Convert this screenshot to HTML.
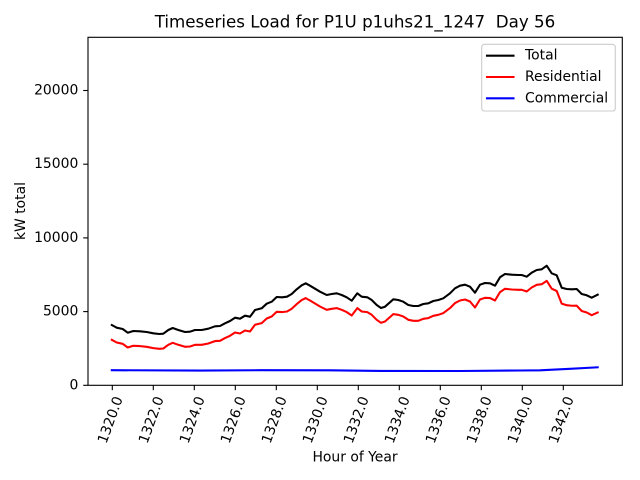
<!DOCTYPE html>
<html><head><meta charset="utf-8"><style>
html,body{margin:0;padding:0;background:#fff;}
svg{display:block;font-family:"DejaVu Sans","Liberation Sans",sans-serif;}
</style></head><body>
<svg width="640" height="480" viewBox="0 0 640 480" xmlns="http://www.w3.org/2000/svg">
<rect width="640" height="480" fill="#fff"/>
<text x="355" y="27.7" font-size="16.7" text-anchor="middle" xml:space="preserve">Timeseries Load for P1U p1uhs21_1247  Day 56</text>

<g fill="none" stroke-width="2.08" stroke-linejoin="round" stroke-linecap="square">
<polyline stroke="#0000ff" points="111.8,370.2 200,370.6 260,370.2 330,370.3 380,370.9 460,371 520,370.5 540,370.3 570,368.8 597.7,367.3"/>
<polyline stroke="#ff0000" points="111.8,339.8 116.7,342.5 122.7,343.8 127.7,347.5 133.3,345.8 140,346.1 146.7,346.8 153.3,348.1 159.3,348.8 163.3,348.5 168.3,344.8 172.7,342.8 178.3,344.8 185,346.8 190,346.5 195,344.8 201.7,344.8 208.3,343.5 215,341.1 220,340.8 225,338.1 230,335.8 235,332.5 240,333.5 245,330.5 250,331.5 255,324.8 261.7,323.1 266.7,318.5 271.7,316.5 276.7,311.8 282,312.1 287,311.5 291.7,308.8 296.7,304.1 301.7,300.1 305.7,298.1 310,300.5 315,303.5 320,306.5 326.7,309.8 331.7,308.8 336.7,308.1 341.7,309.8 346.7,312.1 351.7,315.5 357.3,308.1 361.7,311.5 367.3,312.1 371.7,314.8 376.7,319.8 381,322.8 385,321.5 393.3,314.1 398.3,314.8 403.3,316.5 408.3,319.8 413.3,320.8 418.3,320.8 423.3,318.8 428.3,318.1 433.3,315.8 438.3,314.8 443.3,313.1 450,308.1 455,303.1 460,300.5 465,299.5 470,301.5 475,307.5 480,299.5 485,297.8 490,298.1 495,300.5 500,292.1 505,288.8 511.7,289.5 518.3,289.8 521.7,289.8 526.7,291.5 531.7,287.5 536.7,284.8 541.7,284.2 546.7,280.85 551.7,288.7 556.7,291 561.7,303.6 566.7,305.2 571.7,305.75 576.7,305.7 581.7,311 586.7,312.5 591.7,315.2 597.7,312.5"/>
<polyline stroke="#000000" points="111.8,325 116.7,327.7 122.7,329 127.7,332.7 133.3,331 140,331.3 146.7,332 153.3,333.3 159.3,334 163.3,333.7 168.3,330 172.7,328 178.3,330 185,332 190,331.7 195,330 201.7,330 208.3,328.7 215,326.3 220,326 225,323.3 230,321 235,317.7 240,318.7 245,315.7 250,316.7 255,310 261.7,308.3 266.7,303.7 271.7,301.7 276.7,297 282,297.3 287,296.7 291.7,294 296.7,289.3 301.7,285.3 305.7,283.3 310,285.7 315,288.7 320,291.7 326.7,295 331.7,294 336.7,293.3 341.7,295 346.7,297.3 351.7,300.7 357.3,293.3 361.7,296.7 367.3,297.3 371.7,300 376.7,305 381,308 385,306.7 393.3,299.3 398.3,300 403.3,301.7 408.3,305 413.3,306 418.3,306 423.3,304 428.3,303.3 433.3,301 438.3,300 443.3,298.3 450,293.3 455,288.3 460,285.7 465,284.7 470,286.7 475,292.7 480,284.7 485,283 490,283.3 495,285.7 500,277.3 505,274 511.7,274.7 518.3,275 521.7,275 526.7,276.7 531.7,272.7 536.7,270 541.7,269.3 546.7,265.7 551.7,273.3 556.7,275.3 561.7,287.7 566.7,289 571.7,289.3 576.7,289 581.7,294 586.7,295.3 591.7,297.7 597.7,294.7"/>
</g>

<rect x="88" y="37.3" width="534.3" height="348" fill="none" stroke="#000" stroke-width="1.1"/>

<g stroke="#000" stroke-width="1.1">
<line x1="83.2" y1="385.3" x2="88" y2="385.3"/>
<line x1="83.2" y1="311.6" x2="88" y2="311.6"/>
<line x1="83.2" y1="237.9" x2="88" y2="237.9"/>
<line x1="83.2" y1="164.2" x2="88" y2="164.2"/>
<line x1="83.2" y1="90.5" x2="88" y2="90.5"/>
<line x1="112.3" y1="385.3" x2="112.3" y2="390.2"/>
<line x1="153.3" y1="385.3" x2="153.3" y2="390.2"/>
<line x1="194.3" y1="385.3" x2="194.3" y2="390.2"/>
<line x1="235.3" y1="385.3" x2="235.3" y2="390.2"/>
<line x1="276.3" y1="385.3" x2="276.3" y2="390.2"/>
<line x1="317.3" y1="385.3" x2="317.3" y2="390.2"/>
<line x1="358.3" y1="385.3" x2="358.3" y2="390.2"/>
<line x1="399.3" y1="385.3" x2="399.3" y2="390.2"/>
<line x1="440.3" y1="385.3" x2="440.3" y2="390.2"/>
<line x1="481.3" y1="385.3" x2="481.3" y2="390.2"/>
<line x1="522.3" y1="385.3" x2="522.3" y2="390.2"/>
<line x1="563.3" y1="385.3" x2="563.3" y2="390.2"/>
</g>

<g font-size="13.9" text-anchor="end" dominant-baseline="central">
<text x="78.3" y="385.3">0</text>
<text x="78.3" y="311.6">5000</text>
<text x="78.3" y="237.9">10000</text>
<text x="78.3" y="164.2">15000</text>
<text x="78.3" y="90.5">20000</text>
</g>

<g font-size="13.9" text-anchor="middle" dominant-baseline="central">
<text transform="translate(110.8,420) rotate(-70)">1320.0</text>
<text transform="translate(151.8,420) rotate(-70)">1322.0</text>
<text transform="translate(192.8,420) rotate(-70)">1324.0</text>
<text transform="translate(233.8,420) rotate(-70)">1326.0</text>
<text transform="translate(274.8,420) rotate(-70)">1328.0</text>
<text transform="translate(315.8,420) rotate(-70)">1330.0</text>
<text transform="translate(356.8,420) rotate(-70)">1332.0</text>
<text transform="translate(397.8,420) rotate(-70)">1334.0</text>
<text transform="translate(438.8,420) rotate(-70)">1336.0</text>
<text transform="translate(479.8,420) rotate(-70)">1338.0</text>
<text transform="translate(520.8,420) rotate(-70)">1340.0</text>
<text transform="translate(561.8,420) rotate(-70)">1342.0</text>
</g>

<text x="355" y="461.7" font-size="13.9" text-anchor="middle">Hour of Year</text>
<text transform="translate(25,211) rotate(-90)" font-size="13.9" text-anchor="middle">kW total</text>

<rect x="481.7" y="44.3" width="133.6" height="66.7" rx="2.8" ry="2.8" fill="#fff" fill-opacity="0.8" stroke="#cccccc" stroke-width="1.1"/>
<g stroke-width="2.08" stroke-linecap="square">
<line x1="487" y1="55.7" x2="513.5" y2="55.7" stroke="#000"/>
<line x1="487" y1="77" x2="513.5" y2="77" stroke="#ff0000"/>
<line x1="487" y1="98.3" x2="513.5" y2="98.3" stroke="#0000ff"/>
</g>
<g font-size="13.9" dominant-baseline="central">
<text x="525" y="55.7">Total</text>
<text x="525" y="77">Residential</text>
<text x="525" y="98.3">Commercial</text>
</g>
</svg>
</body></html>
